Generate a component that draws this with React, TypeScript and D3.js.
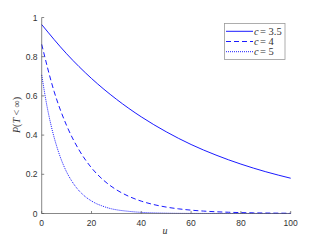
import React from "react";
import * as d3 from "d3";

const uSolid = [0, 10, 20, 30, 40, 50, 60, 70, 80, 90, 100];
const pSolid = [0.964, 0.815, 0.689, 0.583, 0.493, 0.417, 0.352, 0.298, 0.252, 0.213, 0.18];

const uDashed = [0, 5, 10, 15, 20, 25, 30, 35, 40, 45, 50, 55, 60, 65, 70, 75, 80, 85, 90, 95, 100];
const pDashed = [0.863, 0.622, 0.449, 0.324, 0.233, 0.168, 0.121, 0.0875, 0.063, 0.0455, 0.0328, 0.0237, 0.0171, 0.0123, 0.0089, 0.0064, 0.0046, 0.0033, 0.0024, 0.0017, 0.0012];

const uDotted = [0, 2, 4, 6, 8, 10, 12, 14, 16, 18, 20, 22, 24, 26, 28, 30, 35, 40, 50, 60, 80, 100];
const pDotted = [0.707, 0.556, 0.437, 0.344, 0.27, 0.212, 0.167, 0.131, 0.103, 0.081, 0.064, 0.05, 0.04, 0.031, 0.024, 0.019, 0.011, 0.0058, 0.0017, 0.0005, 0.0001, 0.0];

const xTicks = [0, 20, 40, 60, 80, 100];
const yTicks = [0, 0.2, 0.4, 0.6, 0.8, 1];
const yTickLabels = ["0", "0.2", "0.4", "0.6", "0.8", "1"];
const legendLabels = ["3.5", "4", "5"];

export default function App() {
  const x = d3.scaleLinear().domain([0, 100]).range([41.7, 290.7]);
  const y = d3.scaleLinear().domain([0, 1]).range([213.5, 17.5]);
  const line = d3
    .line<[number, number]>()
    .x((d) => x(d[0]))
    .y((d) => y(d[1]))
    .curve(d3.curveMonotoneX);
  const series = [
    { u: uSolid, p: pSolid, dash: undefined as string | undefined },
    { u: uDashed, p: pDashed, dash: "5,3" },
    { u: uDotted, p: pDotted, dash: "1,1" },
  ];
  const axisColor = "#555";
  const tickLen = 2.5;
  const serif = "'Liberation Serif', 'DejaVu Serif', serif";
  const sans = "'Liberation Sans', Arial, sans-serif";
  return (
    <svg
      width={321}
      height={241}
      style={{ position: "absolute", left: 0, top: 0, background: "#fff" }}
    >
      {series.map((s, i) => (
        <path
          key={i}
          d={line(s.u.map((u, j) => [u, s.p[j]] as [number, number])) || ""}
          fill="none"
          stroke="#0000ff"
          strokeWidth={0.9}
          strokeDasharray={s.dash}
        />
      ))}
      <line x1={x(0)} x2={x(100)} y1={y(0)} y2={y(0)} stroke={axisColor} strokeWidth={0.7} />
      <line x1={x(0)} x2={x(0)} y1={y(0)} y2={y(1)} stroke={axisColor} strokeWidth={0.7} />
      {xTicks.map((t) => (
        <g key={"x" + t}>
          <line x1={x(t)} x2={x(t)} y1={y(0)} y2={y(0) - tickLen} stroke={axisColor} strokeWidth={0.7} />
          <text x={x(t)} y={225.5} textAnchor="middle" fontFamily={sans} fontSize={8.5} fill="#333">
            {t}
          </text>
        </g>
      ))}
      {yTicks.map((t, i) => (
        <g key={"y" + t}>
          <line x1={x(0)} x2={x(0) + tickLen} y1={y(t)} y2={y(t)} stroke={axisColor} strokeWidth={0.7} />
          <text x={37.5} y={y(t) + 3} textAnchor="end" fontFamily={sans} fontSize={8.5} fill="#333">
            {yTickLabels[i]}
          </text>
        </g>
      ))}
      <text x={165} y={233.5} textAnchor="middle" fontFamily={serif} fontStyle="italic" fontSize={10} fill="#333">
        u
      </text>
      <text transform="translate(19.5,115) rotate(-90)" textAnchor="middle" fontFamily={serif} fontSize={10} fill="#333">
        <tspan fontStyle="italic">P</tspan>
        <tspan>(</tspan>
        <tspan fontStyle="italic">T</tspan>
        <tspan> &lt; ∞)</tspan>
      </text>
      <rect x={224.5} y={23.5} width={60.5} height={36} fill="#fff" stroke="#999" strokeWidth={0.8} />
      {series.map((s, i) => {
        const ly = 31.3 + i * 10.2;
        return (
          <g key={"l" + i}>
            <line x1={226} x2={253} y1={ly} y2={ly} stroke="#0000ff" strokeWidth={0.9} strokeDasharray={s.dash} />
            <text x={254} y={ly + 3.4} fontFamily={serif} fontSize={10.5} fontStyle="italic" fill="#333">
              c
            </text>
            <text x={260} y={ly + 3.4} fontFamily={serif} fontSize={10.5} fill="#333">
              =
            </text>
            <text x={268.5} y={ly + 3.4} fontFamily={serif} fontSize={10.5} fill="#333">
              {legendLabels[i]}
            </text>
          </g>
        );
      })}
    </svg>
  );
}
